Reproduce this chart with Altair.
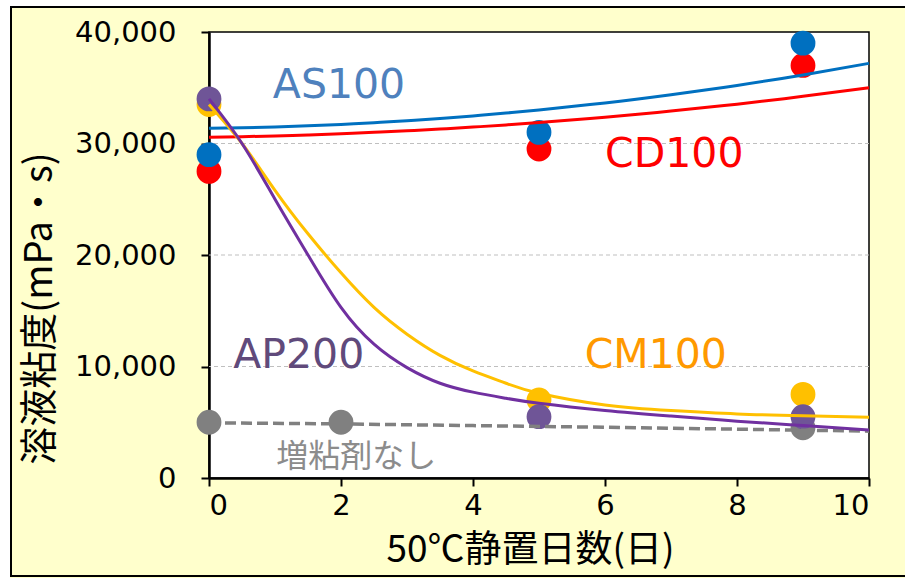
import altair as alt
import pandas as pd

# Viscosity (mPa·s) of each solution after standing at 50 °C
days_none = [0, 2, 9]
visc_none = [5000, 5000, 4500]

days_std = [0, 5, 9]
visc_cd100 = [27500, 29500, 37000]
visc_as100 = [29000, 31000, 39000]
visc_cm100 = [33500, 7000, 7500]
visc_ap200 = [34000, 5500, 5500]

# Fitted trend curves
trend_days = [0, 0.5, 1, 1.5, 2, 2.5, 3, 3.5, 4, 4.5, 5, 6, 7, 8, 9, 10]
trend_as100 = [31360, 31410, 31490, 31590, 31710, 31870, 32040, 32250,
               32470, 32730, 33010, 33640, 34380, 35210, 36150, 37190]
trend_cd100 = [30560, 30610, 30680, 30770, 30870, 31000, 31140, 31290,
               31470, 31670, 31880, 32360, 32910, 33530, 34230, 35000]
trend_cm100 = [33500, 30000, 25800, 21900, 18400, 15300, 12900, 11000,
               9600, 8500, 7600, 6550, 6050, 5750, 5580, 5450]
trend_ap200 = [34000, 30000, 25000, 20000, 15300, 12000, 9900, 8500,
               7700, 7150, 6700, 6050, 5550, 5100, 4700, 4300]
trend_none_days = [0, 2, 4, 6, 8, 10]
trend_none = [4950, 4850, 4700, 4550, 4380, 4200]

x_ticks = [0, 2, 4, 6, 8, 10]
y_ticks = [0, 10000, 20000, 30000, 40000]
grid_values = [10000, 20000, 30000]

label_names = ["AS100", "CD100", "CM100", "AP200", "増粘剤なし"]
label_x = [1.97, 7.05, 6.77, 1.36, 2.23]
label_y = [35200, 29000, 10900, 10900, 1900]

point_colors = {
    "増粘剤なし": "#808080",
    "CD100": "#FF0000",
    "AS100": "#0070C0",
    "CM100": "#FFC000",
    "AP200": "#6F5597",
}
line_colors = {
    "CD100": "#FF0000",
    "AS100": "#0070C0",
    "CM100": "#FFC000",
    "AP200": "#7030A0",
}
label_colors = {
    "AS100": "#4F81BD",
    "CD100": "#FF0000",
    "CM100": "#FF9900",
    "AP200": "#604A7B",
    "増粘剤なし": "#8C8C8C",
}

W, H = 660, 446
NUM_FONT = "DejaVu Sans"
JP_FONT = "Noto Sans CJK JP"

# Long table of measured points, in drawing order
rows = []
for name, xs, ys in [
    ("増粘剤なし", days_none, visc_none),
    ("CD100", days_std, visc_cd100),
    ("AS100", days_std, visc_as100),
    ("CM100", days_std, visc_cm100),
    ("AP200", days_std, visc_ap200),
]:
    for xv, yv in zip(xs, ys):
        rows.append({"series": name, "day": xv, "visc": yv})
points_df = pd.DataFrame(rows)
points_df["order"] = range(len(points_df))

x_scale = alt.Scale(domain=[0, 10], nice=False, zero=False)
y_scale = alt.Scale(domain=[0, 40000], nice=False)

x_axis = alt.Axis(
    values=x_ticks, grid=False, labelFont=NUM_FONT, labelFontSize=29,
    labelColor="black", labelPadding=5, tickSize=8, tickWidth=2,
    tickColor="black", domainColor="black", domainWidth=2.5,
    title="50℃静置日数(日)", titleFont=JP_FONT, titleFontSize=37,
    titleFontWeight="normal", titleColor="black", titleX=321, titleY=72,
    titleAlign="center", titleBaseline="middle",
)
y_axis = alt.Axis(
    values=y_ticks, format=",d", grid=False, labelFont=NUM_FONT,
    labelFontSize=29, labelColor="black", labelPadding=25, tickSize=8,
    tickWidth=2, tickColor="black", domainColor="black", domainWidth=2.5,
    title="溶液粘度(mPa・s)", titleFont=JP_FONT, titleFontSize=38,
    titleFontWeight="normal", titleColor="black", titleAngle=-90,
    titleX=-169, titleY=276, titleAlign="center", titleBaseline="middle",
)

# Dashed horizontal guide lines
grid = alt.Chart(pd.DataFrame({"g": grid_values})).mark_rule(
    color="#BFBFBF", strokeWidth=1, strokeDash=[4, 3]
).encode(y=alt.Y("g:Q", scale=y_scale, axis=y_axis))

points = alt.Chart(points_df).mark_circle(size=616, opacity=1).encode(
    x=alt.X("day:Q", scale=x_scale, axis=x_axis),
    y=alt.Y("visc:Q", scale=y_scale, axis=y_axis),
    color=alt.Color(
        "series:N",
        scale=alt.Scale(domain=list(point_colors.keys()),
                        range=list(point_colors.values())),
        legend=None,
    ),
    order=alt.Order("order:Q"),
)

none_line = alt.Chart(
    pd.DataFrame({"day": trend_none_days, "visc": trend_none})
).mark_line(color="#808080", strokeWidth=3.5, strokeDash=[11, 5]).encode(
    x=alt.X("day:Q", scale=x_scale, axis=x_axis),
    y=alt.Y("visc:Q", scale=y_scale, axis=y_axis),
)

trend_layers = []
for name, vals in [("CD100", trend_cd100), ("AS100", trend_as100),
                   ("CM100", trend_cm100), ("AP200", trend_ap200)]:
    trend_layers.append(
        alt.Chart(pd.DataFrame({"day": trend_days, "visc": vals}))
        .mark_line(color=line_colors[name], strokeWidth=3, interpolate="natural")
        .encode(
            x=alt.X("day:Q", scale=x_scale, axis=x_axis),
            y=alt.Y("visc:Q", scale=y_scale, axis=y_axis),
        )
    )

label_df = pd.DataFrame({"name": label_names, "day": label_x, "visc": label_y})
latin_labels = alt.Chart(label_df[label_df["name"] != "増粘剤なし"]).mark_text(
    font=NUM_FONT, fontSize=41, align="center", baseline="middle"
).encode(
    x=alt.X("day:Q", scale=x_scale, axis=x_axis),
    y=alt.Y("visc:Q", scale=y_scale, axis=y_axis),
    text="name:N",
    color=alt.Color("name:N", scale=alt.Scale(
        domain=list(label_colors.keys()), range=list(label_colors.values())),
        legend=None),
)
jp_label = alt.Chart(label_df[label_df["name"] == "増粘剤なし"]).mark_text(
    font=JP_FONT, fontSize=32, align="center", baseline="middle",
    color=label_colors["増粘剤なし"],
).encode(
    x=alt.X("day:Q", scale=x_scale, axis=x_axis),
    y=alt.Y("visc:Q", scale=y_scale, axis=y_axis),
    text="name:N",
)

# Outer frame of the figure panel
one = pd.DataFrame({"k": [0]})
white_top = alt.Chart(one).mark_rect(color="white").encode(
    x=alt.value(-209), x2=alt.value(700), y=alt.value(-32), y2=alt.value(-26))
white_left = alt.Chart(one).mark_rect(color="white").encode(
    x=alt.value(-209), x2=alt.value(-199), y=alt.value(-32), y2=alt.value(546))
frame = alt.Chart(one).mark_rect(
    fill=None, fillOpacity=0, stroke="black", strokeWidth=2
).encode(x=alt.value(-198), x2=alt.value(697), y=alt.value(-25), y2=alt.value(544))

chart = alt.layer(
    grid, points, none_line, *trend_layers, latin_labels, jp_label,
    white_top, white_left, frame,
).resolve_scale(color="independent").properties(
    width=W, height=H,
    padding={"left": 209, "top": 32, "right": 36, "bottom": 100},
    autosize=alt.AutoSizeParams(type="none"),
).configure(background="#FFFFCC").configure_view(
    fill="white", stroke="black", strokeWidth=1.5
)

chart.save("out.html", embed_options={"renderer": "svg", "actions": False})
